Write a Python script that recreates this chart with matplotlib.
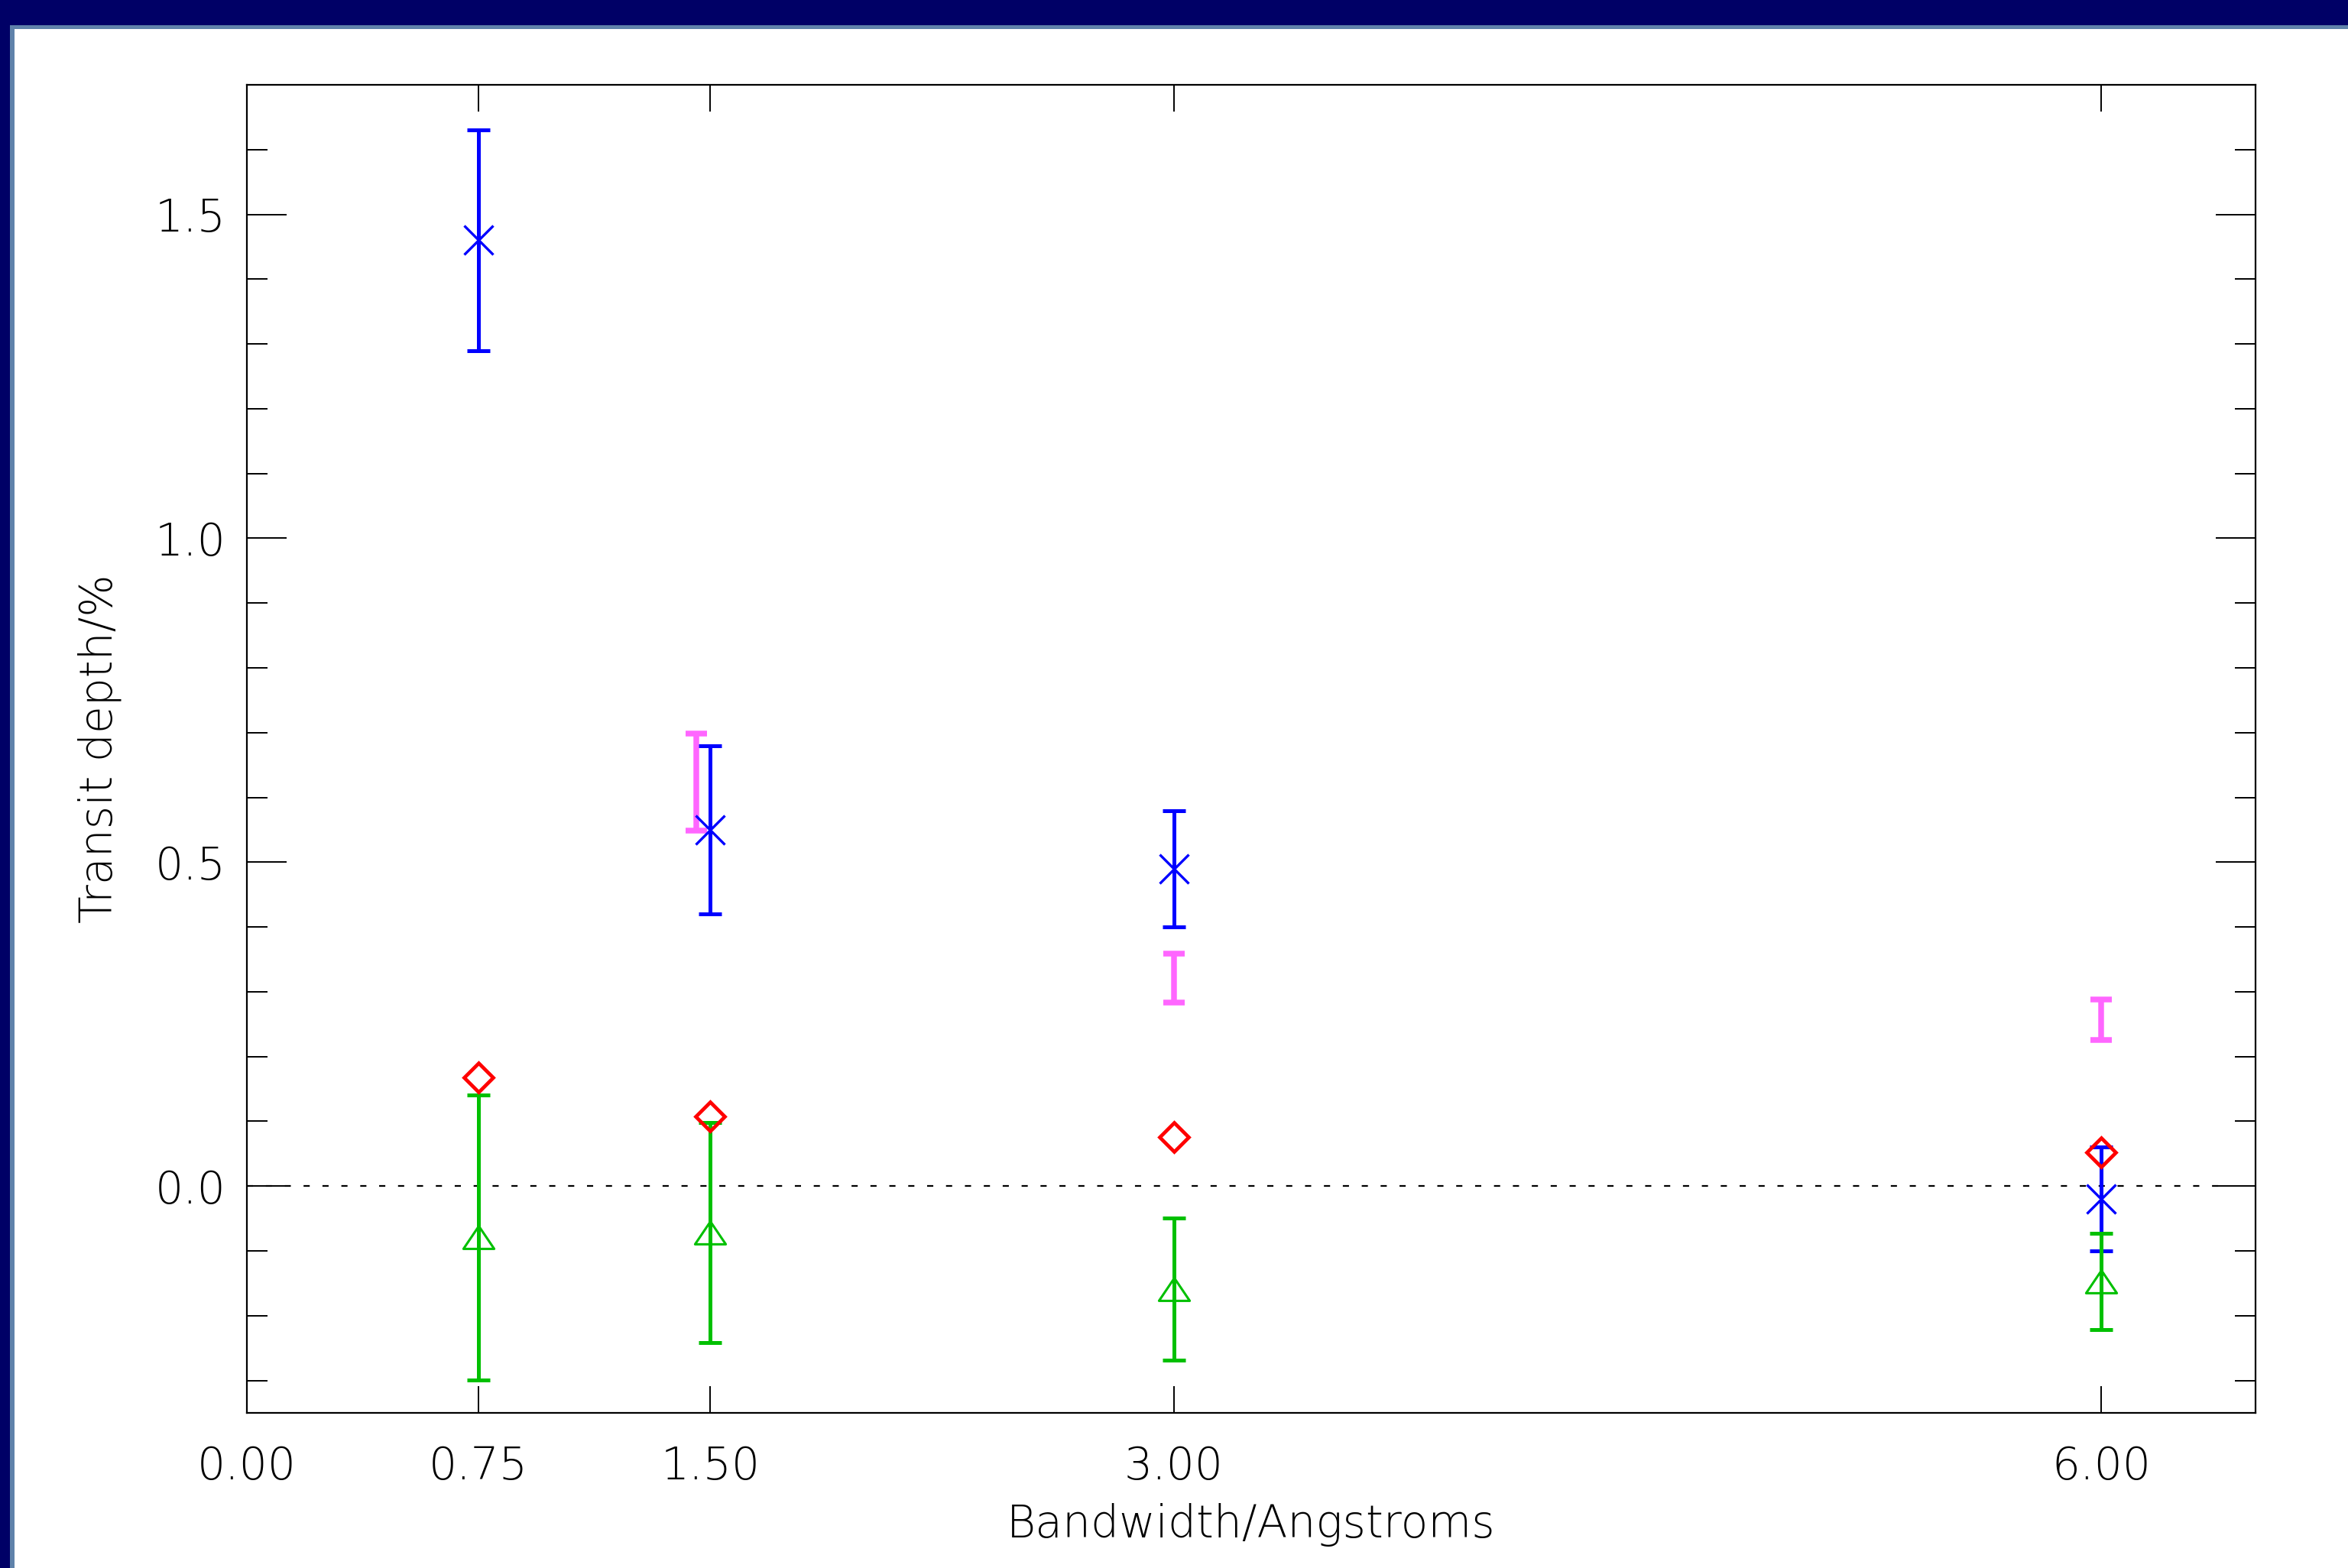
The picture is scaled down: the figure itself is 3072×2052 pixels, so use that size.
import matplotlib
matplotlib.use('Agg')
import matplotlib.pyplot as plt
from matplotlib.path import Path
from matplotlib.patches import Rectangle
from matplotlib.ticker import MultipleLocator, NullLocator
from matplotlib import font_manager as fm

# ---------------- data ----------------
bandwidth = [0.75, 1.50, 3.00, 6.00]
blue_depth = [1.46, 0.55, 0.49, -0.02]
blue_err = [0.17, 0.13, 0.09, 0.08]
green_depth = [-0.079, -0.072, -0.159, -0.147]
green_err = [0.22, 0.17, 0.11, 0.074]
red_depth = [0.168, 0.108, 0.076, 0.052]
pink_bandwidth = [1.455, 3.00, 6.00]
pink_depth = [0.6235, 0.321, 0.257]
pink_err = [0.075, 0.038, 0.031]
zero_line_x = [0.0, 6.4]
zero_line_y = [0.0, 0.0]
xtick_vals = [0.0, 0.75, 1.5, 3.0, 6.0]
xtick_labels = ['0.00', '0.75', '1.50', '3.00', '6.00']
ytick_vals = [0.0, 0.5, 1.0, 1.5]
ytick_labels = ['0.0', '0.5', '1.0', '1.5']
x_label = 'Bandwidth/Angstroms'
y_label = 'Transit depth/%'


def pick_font():
    cands = ['DejaVu Sans', 'Open Sans', 'Lato', 'Roboto', 'Noto Sans', 'Inter']
    for name in cands:
        ws = []
        for f in fm.fontManager.ttflist:
            if f.name == name:
                w = f.weight
                if not isinstance(w, int):
                    w = fm.weight_dict.get(w, 400)
                ws.append(w)
        light = [w for w in ws if w <= 300]
        if light:
            return name, max(light)
    return 'DejaVu Sans', 'normal'


FONT, WEIGHT = pick_font()
plt.rcParams['font.family'] = [FONT, 'DejaVu Sans']
plt.rcParams['font.weight'] = WEIGHT
plt.rcParams['axes.labelweight'] = WEIGHT
plt.rcParams['lines.scale_dashes'] = False

W, H = 3072, 2052
fig = plt.figure(figsize=(W / 100, H / 100), dpi=100)
fig.patch.set_facecolor('white')

navy = '#000066'
strip = '#5f82aa'
# frame decoration (navy border top and left)
fig.add_artist(Rectangle((0, 0), 19 / W, 1, transform=fig.transFigure, color=strip, lw=0, zorder=0))
fig.add_artist(Rectangle((0, 1 - 38 / H), 1, 38 / H, transform=fig.transFigure, color=strip, lw=0, zorder=0))
fig.add_artist(Rectangle((0, 0), 13 / W, 1, transform=fig.transFigure, color=navy, lw=0, zorder=1))
fig.add_artist(Rectangle((0, 1 - 33 / H), 1, 33 / H, transform=fig.transFigure, color=navy, lw=0, zorder=1))

ax = fig.add_axes([323 / W, (H - 1849) / H, (2951 - 323) / W, (1849 - 111) / H])
ax.set_facecolor('white')

# zero reference line
ax.plot(zero_line_x, zero_line_y, color='k', lw=1.6, dashes=(5.8, 12), zorder=1)

# pink error bars (no marker)
ax.errorbar(pink_bandwidth, pink_depth, yerr=pink_err, fmt='none', ecolor='#ff66ff',
            elinewidth=5.4, capsize=10.3, capthick=5.4, zorder=2)

# blue crosses
ax.errorbar(bandwidth, blue_depth, yerr=blue_err, fmt='none', ecolor='#0000ff',
            elinewidth=3.6, capsize=10.8, capthick=3.6, zorder=3)
ax.plot(bandwidth, blue_depth, linestyle='none', marker='x', ms=28, mew=2.4,
        color='#0000ff', zorder=3.5)

# green triangles
tri = Path([(-1, -0.74), (1, -0.74), (0, 0.74), (-1, -0.74)],
           [Path.MOVETO, Path.LINETO, Path.LINETO, Path.CLOSEPOLY])
ax.errorbar(bandwidth, green_depth, yerr=green_err, fmt='none', ecolor='#00c000',
            elinewidth=3.6, capsize=10.8, capthick=3.6, zorder=4)
ax.plot(bandwidth, green_depth, linestyle='none', marker=tri, ms=29, mfc='none',
        mec='#00c000', mew=2.2, zorder=4.5)

# red diamonds
ax.plot(bandwidth, red_depth, linestyle='none', marker='D', ms=19, mfc='none',
        mec='#ff0000', mew=3.4, zorder=5)

ax.set_xlim(0, 6.5)
ax.set_ylim(-0.35, 1.7)
ax.set_xticks(xtick_vals)
ax.set_xticklabels(xtick_labels)
ax.set_yticks(ytick_vals)
ax.set_yticklabels(ytick_labels)
ax.yaxis.set_minor_locator(MultipleLocator(0.1))
ax.xaxis.set_minor_locator(NullLocator())

ax.tick_params(axis='both', which='both', direction='in', top=True, right=True,
               width=1.4, colors='k', labelsize=42)
ax.tick_params(axis='y', which='major', length=37.4, pad=20)
ax.tick_params(axis='y', which='minor', length=19.4)
ax.tick_params(axis='x', which='major', length=25, pad=30)

for sp in ax.spines.values():
    sp.set_linewidth(1.6)
    sp.set_color('k')

ax.set_xlabel(x_label, fontsize=42, fontweight=WEIGHT)
ax.set_ylabel(y_label, fontsize=42, fontweight=WEIGHT)
ax.xaxis.set_label_coords(0.5, -0.0679)
ax.yaxis.set_label_coords(-0.0624, 0.5)

fig.savefig('out.png', dpi=100, facecolor='white')
